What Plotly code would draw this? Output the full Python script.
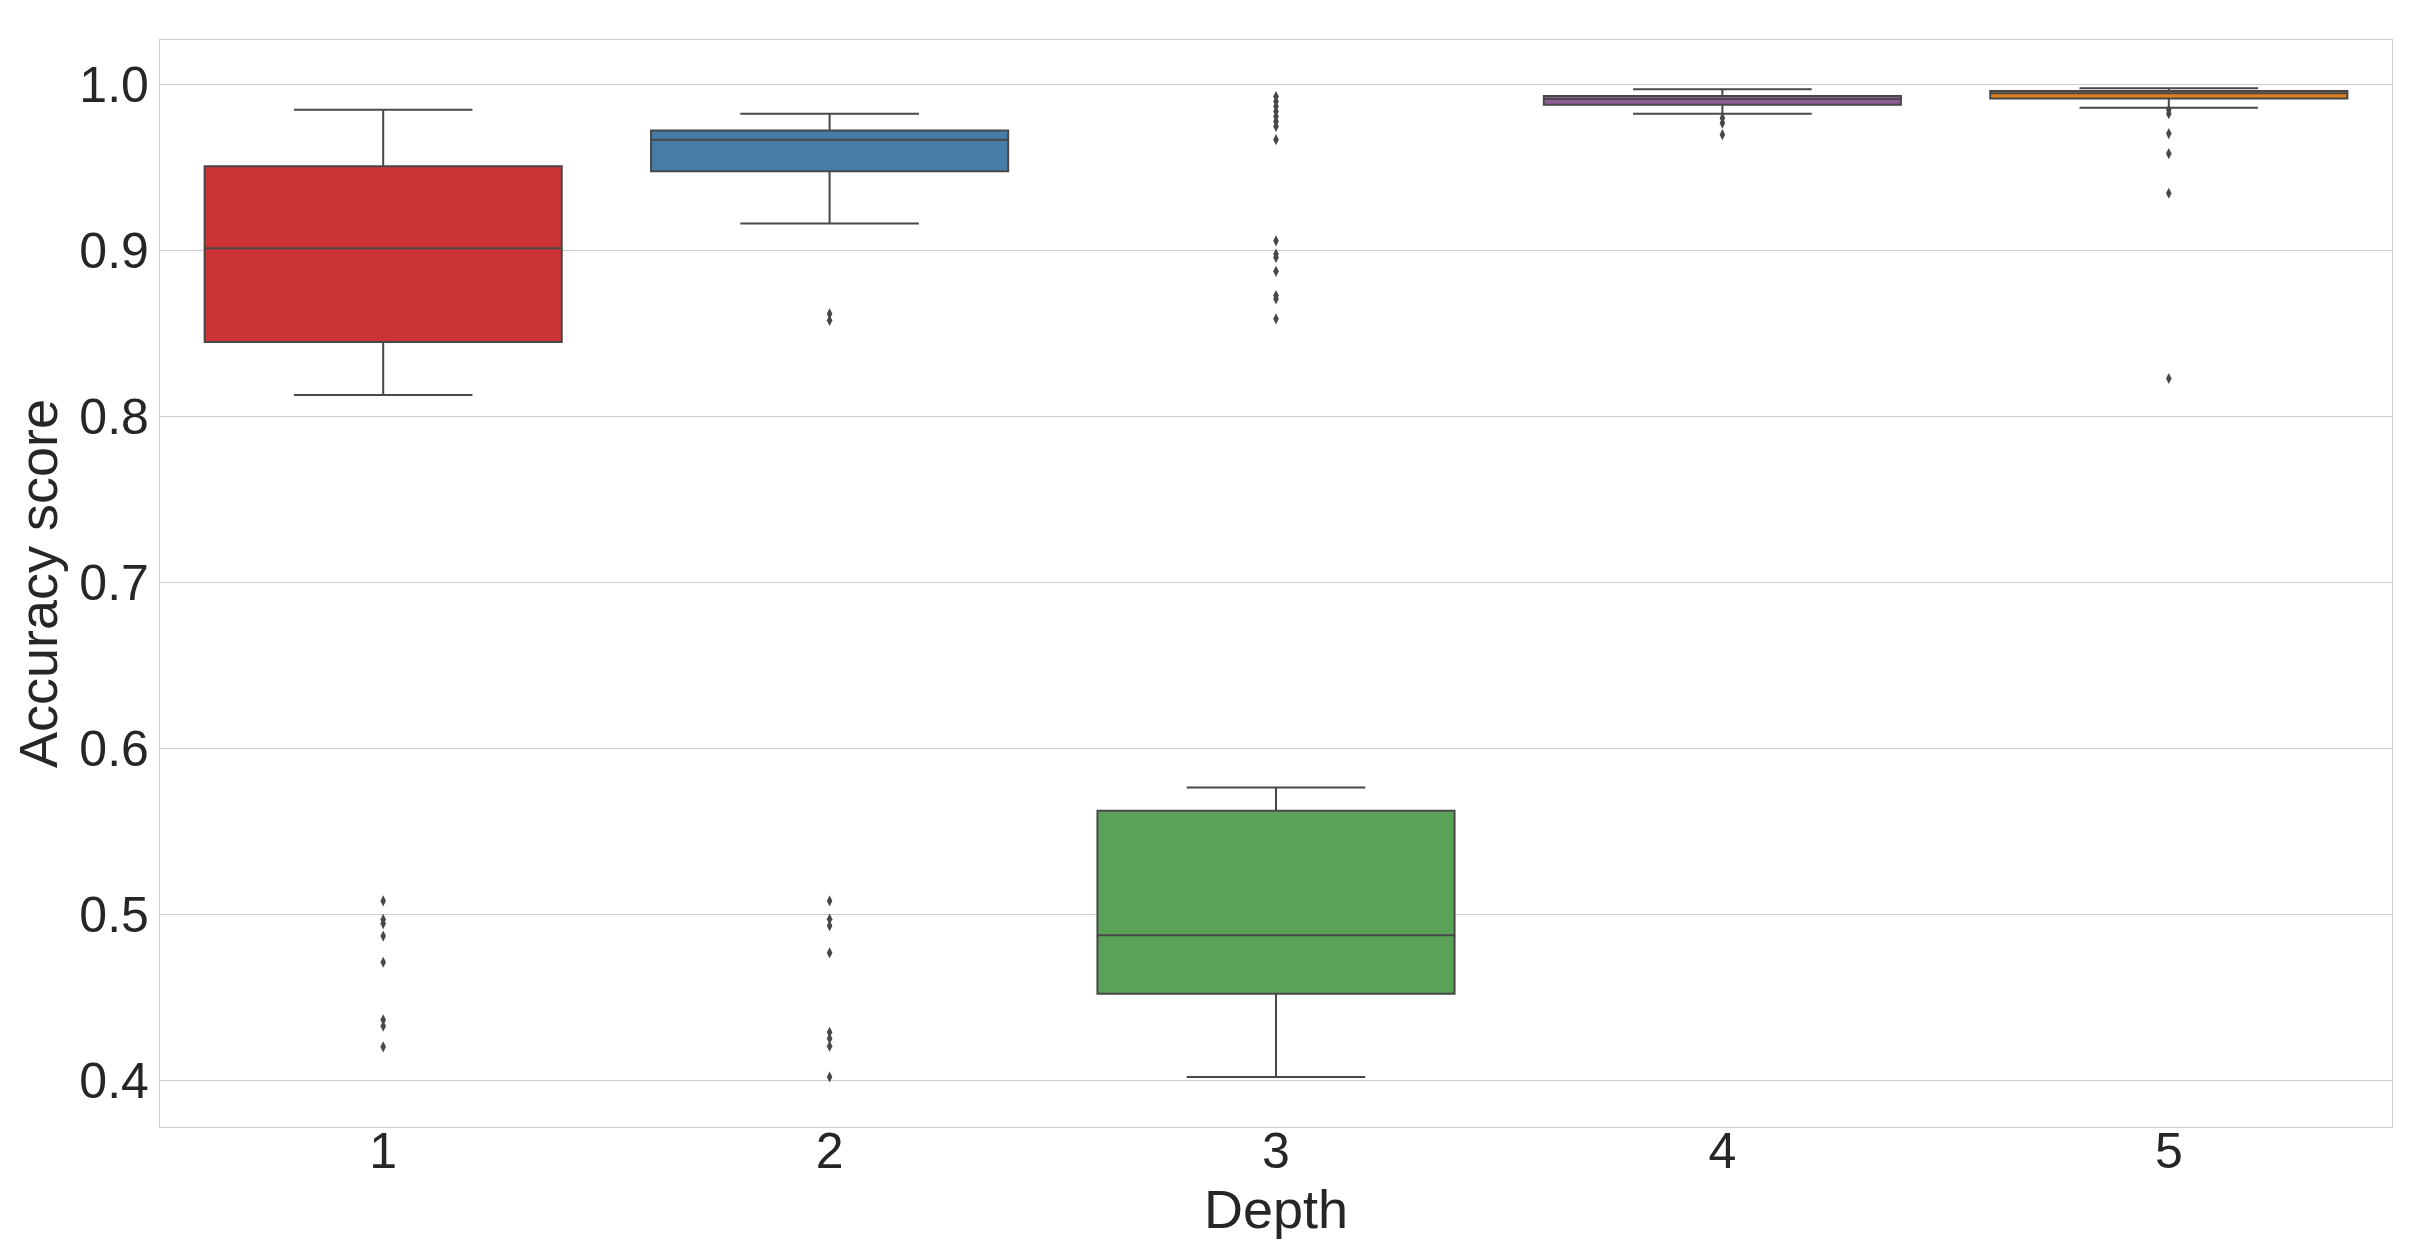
import plotly.graph_objects as go

depths = [1, 2, 3, 4, 5]
colors = ["#CB3335", "#477CA8", "#59A257", "#905998", "#DF7F20"]

q1 = [0.845, 0.948, 0.452, 0.988, 0.9918]
median = [0.9016, 0.967, 0.4873, 0.9915, 0.995]
q3 = [0.951, 0.9725, 0.5624, 0.9934, 0.9964]
lower_whisker = [0.813, 0.9165, 0.4018, 0.9827, 0.9863]
upper_whisker = [0.985, 0.9827, 0.5763, 0.9974, 0.998]

outliers = {
    1: [0.508, 0.4968, 0.4943, 0.4868, 0.471, 0.4363, 0.4325, 0.420],
    2: [0.862, 0.858, 0.508, 0.497, 0.493, 0.4767, 0.4288, 0.425, 0.4204, 0.4018],
    3: [0.993, 0.990, 0.987, 0.984, 0.981, 0.978, 0.975, 0.967,
        0.906, 0.898, 0.896, 0.8876, 0.873, 0.871, 0.859],
    4: [0.980, 0.977, 0.970],
    5: [0.985, 0.9827, 0.9707, 0.9586, 0.9347, 0.823],
}

y_ticks = [0.4, 0.5, 0.6, 0.7, 0.8, 0.9, 1.0]

line_col = "#484848"
fig = go.Figure()
for i, d in enumerate(depths):
    fig.add_trace(go.Box(
        x=[d], q1=[q1[i]], median=[median[i]], q3=[q3[i]],
        lowerfence=[lower_whisker[i]], upperfence=[upper_whisker[i]],
        fillcolor=colors[i], line=dict(color=line_col, width=2),
        width=0.8, whiskerwidth=0.5, boxpoints=False, showlegend=False,
        hoverinfo="skip",
    ))
    pts = outliers[d]
    fig.add_trace(go.Scatter(
        x=[d] * len(pts), y=pts, mode="markers",
        marker=dict(symbol="diamond-tall", size=8, color=line_col, line=dict(width=0)),
        showlegend=False, hoverinfo="skip",
    ))

fig.update_layout(
    width=2429, height=1256,
    paper_bgcolor="white", plot_bgcolor="white",
    margin=dict(l=152, r=45, t=32, b=137),
    font=dict(family="Liberation Sans, Arial, sans-serif", color="#262626"),
    boxmode="overlay",
)
fig.update_xaxes(
    range=[0.5, 5.5], tickvals=depths, ticktext=[str(d) for d in depths],
    showgrid=False, zeroline=False,
    showline=True, linecolor="#cccccc", linewidth=1.3, mirror=True,
    tickfont=dict(size=50), ticks="", ticklabelstandoff=-20,
    title=dict(text="Depth", font=dict(size=54), standoff=4),
    automargin=False,
)
fig.update_yaxes(
    range=[0.37166, 1.0271], tickvals=y_ticks, tickformat=".1f",
    showgrid=True, gridcolor="#cccccc", gridwidth=1.3, zeroline=False,
    showline=True, linecolor="#cccccc", linewidth=1.3, mirror=True,
    tickfont=dict(size=50), ticks="", ticklabelstandoff=0,
    title=dict(text="Accuracy score", font=dict(size=54), standoff=10),
    automargin=False,
)

fig.write_html("out.html")
